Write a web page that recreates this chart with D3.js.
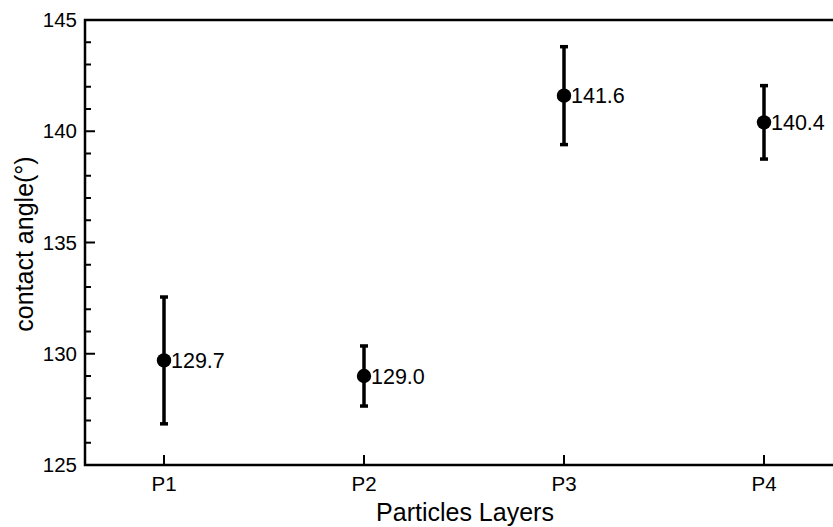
<!DOCTYPE html>
<html>
<head>
<meta charset="utf-8">
<script src="https://cdn.jsdelivr.net/npm/d3@7"></script>
<style>
  body { margin: 0; background: #fff; }
  text { font-family: "Liberation Sans", Arial, Helvetica, sans-serif; fill: #000; }
</style>
</head>
<body>
<div id="chart"></div>
<script>
// data
var layers = ["P1", "P2", "P3", "P4"];
var angles = [129.7, 129.0, 141.6, 140.4];
var errors = [2.85, 1.35, 2.2, 1.65];
var yTicks = [125, 130, 135, 140, 145];
var yMinorTicks = d3.range(125, 145.01, 1);

var W = 833, H = 527;
var m = {left: 85, top: 20, bottom: 465, right: 843};

var svg = d3.select("#chart").append("svg")
  .attr("width", W)
  .attr("height", H);

var x = d3.scalePoint()
  .domain(layers)
  .range([m.left, m.right])
  .padding(0.395);

var y = d3.scaleLinear()
  .domain([125, 145])
  .range([m.bottom, m.top]);

var pts = layers.map(function(d, i){
  return {name: d, v: angles[i], e: errors[i]};
});

// frame lines (left, top, bottom)
svg.append("path")
  .attr("d", "M" + m.right + "," + m.top + "H" + m.left + "V" + m.bottom + "H" + m.right)
  .attr("fill", "none")
  .attr("stroke", "#000")
  .attr("stroke-width", 2.5);

// y ticks, inward
svg.selectAll("line.ymin")
  .data(yMinorTicks.filter(function(d){ return yTicks.indexOf(d) < 0; }))
  .enter().append("line")
  .attr("class", "ymin")
  .attr("x1", m.left).attr("x2", m.left + 6)
  .attr("y1", function(d){ return y(d); })
  .attr("y2", function(d){ return y(d); })
  .attr("stroke", "#000").attr("stroke-width", 2);

svg.selectAll("line.ymaj")
  .data(yTicks)
  .enter().append("line")
  .attr("class", "ymaj")
  .attr("x1", m.left).attr("x2", m.left + 10)
  .attr("y1", function(d){ return y(d); })
  .attr("y2", function(d){ return y(d); })
  .attr("stroke", "#000").attr("stroke-width", 2);

svg.selectAll("text.ylab")
  .data(yTicks)
  .enter().append("text")
  .attr("class", "ylab")
  .attr("x", m.left - 8)
  .attr("y", function(d){ return y(d) + 7; })
  .attr("text-anchor", "end")
  .attr("font-size", 20.5)
  .text(function(d){ return d; });

// x ticks, inward
svg.selectAll("line.xtick")
  .data(layers)
  .enter().append("line")
  .attr("class", "xtick")
  .attr("x1", function(d){ return x(d); })
  .attr("x2", function(d){ return x(d); })
  .attr("y1", m.bottom).attr("y2", m.bottom - 10)
  .attr("stroke", "#000").attr("stroke-width", 2);

svg.selectAll("text.xlab")
  .data(layers)
  .enter().append("text")
  .attr("class", "xlab")
  .attr("x", function(d){ return x(d); })
  .attr("y", 491)
  .attr("text-anchor", "middle")
  .attr("font-size", 20.5)
  .text(function(d){ return d; });

// axis titles
svg.append("text")
  .attr("x", 465)
  .attr("y", 521)
  .attr("text-anchor", "middle")
  .attr("font-size", 25)
  .text("Particles Layers");

svg.append("text")
  .attr("transform", "translate(33,244) rotate(-90)")
  .attr("text-anchor", "middle")
  .attr("font-size", 25)
  .text("contact angle(°)");

// error bars
var g = svg.selectAll("g.pt")
  .data(pts)
  .enter().append("g")
  .attr("class", "pt");

g.append("line")
  .attr("x1", function(d){ return x(d.name); })
  .attr("x2", function(d){ return x(d.name); })
  .attr("y1", function(d){ return y(d.v + d.e); })
  .attr("y2", function(d){ return y(d.v - d.e); })
  .attr("stroke", "#000").attr("stroke-width", 3.5);

[1, -1].forEach(function(s){
  g.append("line")
    .attr("x1", function(d){ return x(d.name) - 4; })
    .attr("x2", function(d){ return x(d.name) + 4; })
    .attr("y1", function(d){ return y(d.v + s * d.e); })
    .attr("y2", function(d){ return y(d.v + s * d.e); })
    .attr("stroke", "#000").attr("stroke-width", 3.5);
});

g.append("circle")
  .attr("cx", function(d){ return x(d.name); })
  .attr("cy", function(d){ return y(d.v); })
  .attr("r", 7.2)
  .attr("fill", "#000");

g.append("text")
  .attr("x", function(d){ return x(d.name) + 7; })
  .attr("y", function(d){ return y(d.v) + 7.5; })
  .attr("font-size", 21.5)
  .text(function(d){ return d.v.toFixed(1); });
</script>
</body>
</html>
